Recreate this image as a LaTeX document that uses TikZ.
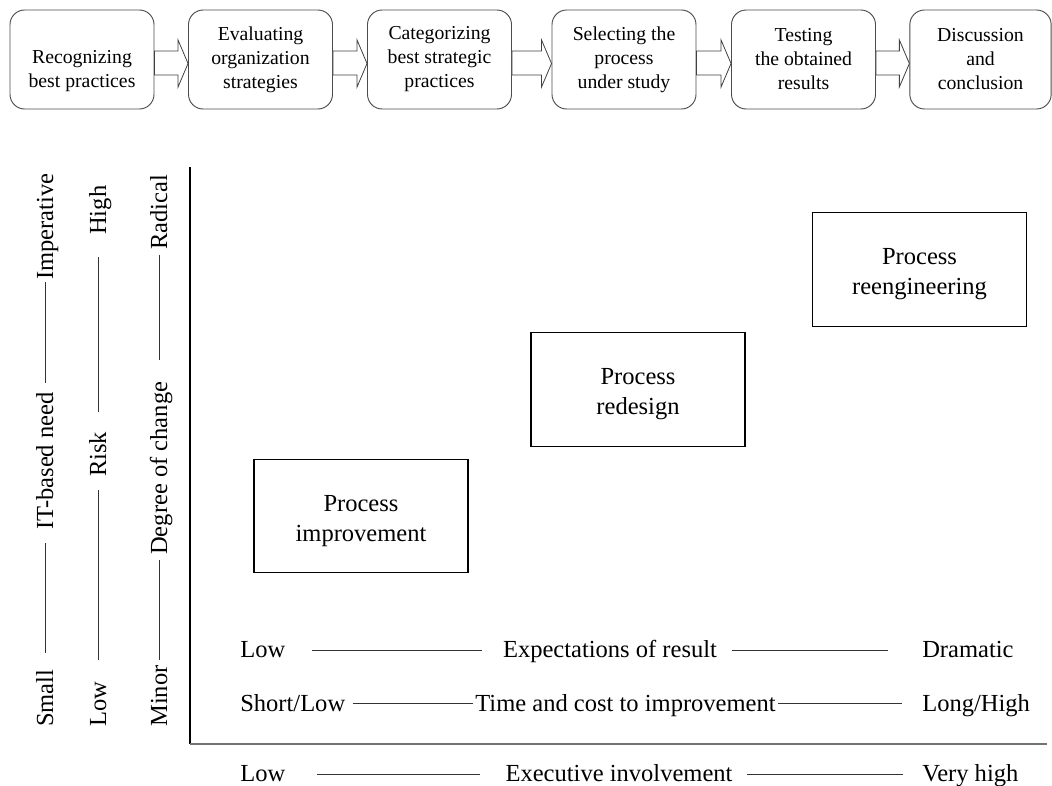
\documentclass[tikz,border=0pt]{standalone}
\usepackage{fontspec}
\setmainfont{Liberation Serif}
\usetikzlibrary{calc}
\begin{document}
\begin{tikzpicture}[x=0.75pt,y=-0.75pt,
  steptext/.style={align=center, font=\fontsize{14.8}{18}\selectfont, inner sep=0pt},
  stepbox/.style={steptext, draw=black!70, line width=0.7pt, rounded corners=11pt, minimum width=108pt, minimum height=74.25pt},
  blockarrow/.style={draw=black!75, line width=0.6pt, fill=white},
  procbox/.style={draw=black, line width=0.8pt, minimum width=160.5pt, minimum height=85pt, align=center, font=\fontsize{18.4}{22.5}\selectfont, inner sep=0pt},
  lbl/.style={font=\fontsize{18.4}{22}\selectfont, inner sep=0pt},
  vlbl/.style={lbl, rotate=90, anchor=base west},
  rule/.style={draw=black!80, line width=0.6pt},
  axis/.style={draw=black, line width=0.9pt},
  haxis/.style={draw=black!55, line width=1pt}]
\useasboundingbox (0,0) rectangle (1052,785);

% top flow
\node[stepbox] (b1) at (82,59.5) {};
\node[steptext] (b1t) at ($(b1.center)+(0,12)$) {Recognizing\\best practices};
\node[stepbox] (b2) at (260.5,59.5) {Evaluating\\organization\\strategies};
\node[stepbox] (b3) at (439.5,59.5) {Categorizing\\best strategic\\practices};
\node[stepbox] (b4) at (624,59.5) {Selecting the\\process\\under study};
\node[stepbox] (b5) at (803.5,59.5) {Testing\\the obtained\\results};
\node[stepbox, minimum width=106pt] (b6) at (980.5,59.5) {Discussion\\and\\conclusion};

\foreach \a/\b in {b1/b2,b2/b3,b3/b4,b4/b5,b5/b6}{
  \draw[blockarrow] ($(\a.east)+(0,-8.5)$) -- ($(\b.west)+(-10,-8.5)$) -- ($(\b.west)+(-10,-19.5)$)
    -- ($(\b.west)+(0,4)$) -- ($(\b.west)+(-10,27.5)$) -- ($(\b.west)+(-10,15.5)$)
    -- ($(\a.east)+(0,15.5)$) -- cycle;
}

% axes
\coordinate (ytop) at (190,167);
\coordinate (origin) at (190,744);
\coordinate (xend) at (1047,744);
\draw[axis] (ytop) -- (origin);
\draw[haxis] (origin) -- (xend);

% process boxes
\node[procbox] (imp) at (361,516) {\rule{0pt}{19.5pt}Process\\improvement};
\node[procbox] (red) at (638,389.5) {\rule{0pt}{19.5pt}Process\\redesign};
\node[procbox] (reeng) at (919.5,269.5) {\rule{0pt}{19.5pt}Process\\reengineering};

% left rotated labels
\node[vlbl] (small) at (53,727) {Small};
\node[vlbl] (itneed) at (53,530) {IT-based need};
\node[vlbl] (imper) at (53,280) {Imperative};
\coordinate (c1a) at (45,653); \coordinate (c1b) at (45,543);
\coordinate (c1c) at (45,383); \coordinate (c1d) at (45,282);
\draw[rule] (c1a) -- (c1b);
\draw[rule] (c1c) -- (c1d);

\node[vlbl] (lowrisk) at (106,727) {Low};
\node[vlbl] (risk) at (106,477) {Risk};
\node[vlbl] (high) at (106,235) {High};
\coordinate (c2a) at (98,660); \coordinate (c2b) at (98,490);
\coordinate (c2c) at (98,412); \coordinate (c2d) at (98,257);
\draw[rule] (c2a) -- (c2b);
\draw[rule] (c2c) -- (c2d);

\node[vlbl] (minor) at (167,727) {Minor};
\node[vlbl] (degree) at (167,555) {Degree of change};
\node[vlbl] (radical) at (167,250) {Radical};
\coordinate (c3a) at (159,660); \coordinate (c3b) at (159,560);
\coordinate (c3c) at (159,360); \coordinate (c3d) at (159,255);
\draw[rule] (c3a) -- (c3b);
\draw[rule] (c3c) -- (c3d);

% bottom rows
\node[lbl, anchor=base west] (lowexp) at (240,657) {Low};
\node[lbl, anchor=base] (expect) at (610,657) {Expectations of result};
\node[lbl, anchor=base west] (dram) at (922,657) {Dramatic};
\coordinate (r1a) at (312,650); \coordinate (r1b) at (482,650);
\coordinate (r1c) at (732,650); \coordinate (r1d) at (888,650);
\draw[rule] (r1a) -- (r1b);
\draw[rule] (r1c) -- (r1d);

\node[lbl, anchor=base west] (short) at (240,711) {Short/Low};
\node[lbl, anchor=base] (time) at (625.5,711) {Time and cost to improvement};
\node[lbl, anchor=base west] (long) at (922,711) {Long/High};
\coordinate (r2a) at (353,703); \coordinate (r2b) at (473,703);
\coordinate (r2c) at (778,703); \coordinate (r2d) at (902,703);
\draw[rule] (r2a) -- (r2b);
\draw[rule] (r2c) -- (r2d);

\node[lbl, anchor=base west] (lowexec) at (240,781) {Low};
\node[lbl, anchor=base] (exec) at (619,781) {Executive involvement};
\node[lbl, anchor=base west] (vhigh) at (922,781) {Very high};
\coordinate (r3a) at (317,774); \coordinate (r3b) at (480,774);
\coordinate (r3c) at (747,774); \coordinate (r3d) at (903,774);
\draw[rule] (r3a) -- (r3b);
\draw[rule] (r3c) -- (r3d);
\end{tikzpicture}
\end{document}
